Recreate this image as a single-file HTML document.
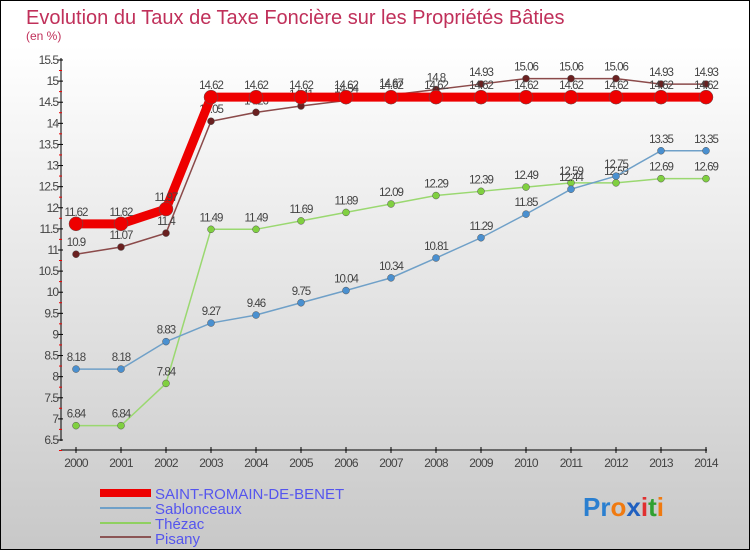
<!DOCTYPE html>
<html><head><meta charset="utf-8"><style>
body{margin:0;width:750px;height:550px;overflow:hidden;font-family:"Liberation Sans",sans-serif}
#c{position:absolute;left:0;top:0;width:748px;height:548px;border:1px solid #000;background:linear-gradient(#fff,#fff 8%,#c8c8c8)}
</style></head><body>
<div id="c">
<svg id="s" width="750" height="550" style="position:absolute;left:-1px;top:-1px">
<text x="26" y="24" font-size="20" fill="#c0305a">Evolution du Taux de Taxe Foncière sur les Propriétés Bâties</text>
<text x="26" y="40" font-size="12" fill="#c0305a">(en %)</text>
<g id="ax"></g><g id="ser"></g>
<g font-size="15" fill="#5555ee">
<rect x="100" y="489" width="51" height="8" fill="#e00"/>
<text x="155" y="499">SAINT-ROMAIN-DE-BENET</text>
<rect x="100" y="507" width="51" height="2" fill="#6fa0c8"/>
<text x="155" y="514">Sablonceaux</text>
<rect x="100" y="522" width="51" height="2" fill="#8fd060"/>
<text x="155" y="529">Thézac</text>
<rect x="100" y="536" width="51" height="2" fill="#8b5555"/>
<text x="155" y="544">Pisany</text>
</g>
<text x="583" y="516" font-size="26" font-weight="bold"><tspan fill="#2a7fd0">Pr</tspan><tspan fill="#f07a10">o</tspan><tspan fill="#2060c0">x</tspan><tspan fill="#e03030">i</tspan><tspan fill="#30a030">t</tspan><tspan fill="#f07a10">i</tspan></text>
</svg></div>
<script>
const years=[2000,2001,2002,2003,2004,2005,2006,2007,2008,2009,2010,2011,2012,2013,2014];
const yTicks=[6.5,7,7.5,8,8.5,9,9.5,10,10.5,11,11.5,12,12.5,13,13.5,14,14.5,15,15.5];
const saintRomain=[11.62,11.62,11.97,14.62,14.62,14.62,14.62,14.62,14.62,14.62,14.62,14.62,14.62,14.62,14.62];
const sablonceaux=[8.18,8.18,8.83,9.27,9.46,9.75,10.04,10.34,10.81,11.29,11.85,12.44,12.75,13.35,13.35];
const thezac=[6.84,6.84,7.84,11.49,11.49,11.69,11.89,12.09,12.29,12.39,12.49,12.59,12.59,12.69,12.69];
const pisany=[10.9,11.07,11.4,14.05,14.26,14.41,14.54,14.67,14.8,14.93,15.06,15.06,15.06,14.93,14.93];
const NS="http://www.w3.org/2000/svg";
const x=i=>76+i*(706-76)/(years.length-1);
const y=v=>440-(v-6.5)*(440-60)/(15.5-6.5);
function mk(t,a,p){const e=document.createElementNS(NS,t);for(const k in a)e.setAttribute(k,a[k]);p.appendChild(e);return e;}
const ax=document.getElementById('ax');
const yl=mk('line',{x1:61,y1:58,x2:61,y2:441,stroke:'#000','stroke-width':1},ax);


const xl=mk('line',{x1:61,y1:450,x2:707,y2:450,stroke:'#000','stroke-width':1},ax);


yTicks.forEach(v=>{
 mk('line',{x1:58,x2:63,y1:y(v),y2:y(v),stroke:'#000'},ax);
 mk('line',{x1:59,x2:62,y1:y(v)+10.5,y2:y(v)+10.5,stroke:'#e00'},ax);
 const t=mk('text',{x:58,y:y(v)+4,'font-size':12,'text-anchor':'end',fill:'#444','letter-spacing':'-1'},ax);
 t.textContent=v;
 
 
});
years.forEach((yr,i)=>{
 mk('line',{x1:x(i),x2:x(i),y1:447,y2:453,stroke:'#000'},ax);
 const t=mk('text',{x:x(i),y:467,'font-size':12,'text-anchor':'middle',fill:'#444','letter-spacing':'-0.8'},ax);
 t.textContent=yr;
 
 
});
const ser=document.getElementById('ser');
function draw(d,name,col,w,r,dot){
 const g=mk('g',{},ser);
 
 
 mk('polyline',{points:d.map((v,i)=>x(i)+','+y(v)).join(' '),fill:'none',stroke:col,'stroke-width':w},g);
 d.forEach((v,i)=>{
  const c=mk('circle',{cx:x(i),cy:y(v),r:r,fill:dot,stroke:'#555','stroke-width':0.5},g);
  
  
  const t=mk('text',{x:x(i),y:y(v)-8,'font-size':11.5,'text-anchor':'middle',fill:'#444','letter-spacing':'-1'},g);
  t.textContent=v;
  
  
 });
}
draw(thezac,'thezac','#9ad870',1.5,3.5,'#80d040');
draw(sablonceaux,'sablonceaux','#6fa0c8',1.5,3.5,'#4a90d0');
draw(pisany,'pisany','#8b4a4a',1.5,3.5,'#6a2020');
draw(saintRomain,'saint-romain','#ee0000',9,7,'#ee0000');
</script>
</body></html>
